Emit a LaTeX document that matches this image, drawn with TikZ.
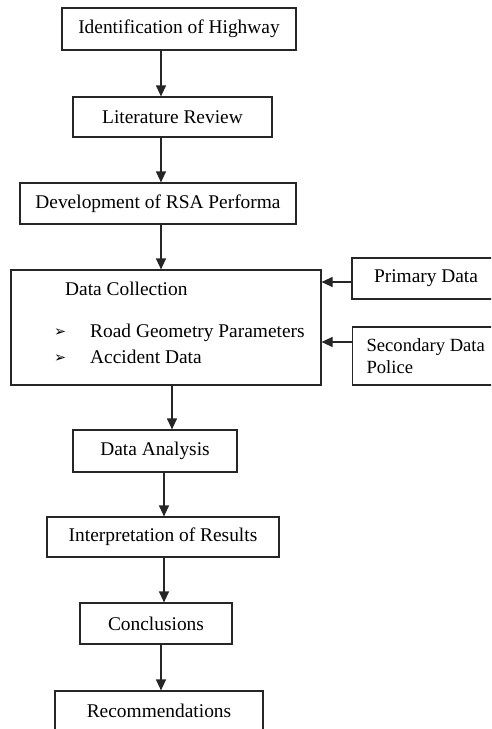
\documentclass[tikz,border=0pt]{standalone}
\usepackage{fontspec}
\setmainfont{Liberation Serif}
\newfontfamily\symfont{DejaVu Sans}
\usetikzlibrary{arrows.meta}
\begin{document}
\begin{tikzpicture}[x=1pt,y=-1pt,
  stepbox/.style={draw=black!85, line width=1.2pt, rectangle, inner sep=0pt,
    font=\fontsize{19.4}{22}\selectfont},
  txt/.style={inner sep=0pt, font=\fontsize{19.4}{22}\selectfont},
  arr/.style={draw=black!85, line width=1.2pt, -{Triangle[length=11pt,width=10pt]}}]
\useasboundingbox (0,0) rectangle (491,729);
\clip (0,0) rectangle (491,729);

% main chain of steps
\node[stepbox, minimum width=234pt, minimum height=42pt] (b1) at (179,29) {Identification of Highway};
\node[stepbox, minimum width=199pt, minimum height=40pt] (b2) at (172.5,117) {Literature Review};
\node[stepbox, minimum width=276pt, minimum height=41pt] (b3) at (158,203.5) {Development of RSA Performa};
\node[stepbox, minimum width=310pt, minimum height=115pt] (dc) at (166,327.5) {};
\node[stepbox, minimum width=164pt, minimum height=42pt] (da) at (155,451) {Data Analysis};
\node[stepbox, minimum width=232pt, minimum height=40pt] (ir) at (163,537) {Interpretation of Results};
\node[stepbox, minimum width=152pt, minimum height=41pt] (co) at (156,623.5) {Conclusions};
\node[stepbox, minimum width=208pt, minimum height=40pt] (re) at (159,711) {Recommendations};

% contents of the data collection box
\node[txt, anchor=base west] (dct) at (65,295) {Data Collection};
\node[txt, anchor=base west] (m1) at (54,336) {\symfont\fontsize{14.5}{15}\selectfont ➢};
\node[txt, anchor=base west] (r1) at (90,337) {Road Geometry Parameters};
\node[txt, anchor=base west] (m2) at (54,362) {\symfont\fontsize{14.5}{15}\selectfont ➢};
\node[txt, anchor=base west] (r2) at (90,363) {Accident Data};

% data sources on the right
\node[stepbox, minimum width=148pt, minimum height=41pt] (pd) at (426,278.5) {Primary Data};
\node[stepbox, anchor=west, minimum height=58pt, text width=150pt, align=flush left,
  inner xsep=14pt, font=\fontsize{18.6}{22}\selectfont] (sd) at (352,356) {Secondary Data\\Police};

% connectors
\draw[arr] (b1.south -| 161,0) -- (b2.north -| 161,0);
\draw[arr] (b2.south -| 161,0) -- (b3.north -| 161,0);
\draw[arr] (b3.south -| 161,0) -- (dc.north -| 161,0);
\draw[arr] (dc.south -| 172,0) -- (da.north -| 172,0);
\draw[arr] (da.south -| 164,0) -- (ir.north -| 164,0);
\draw[arr] (ir.south -| 164,0) -- (co.north -| 164,0);
\draw[arr] (co.south -| 161,0) -- (re.north -| 161,0);
\draw[arr] (pd.west |- 0,282) -- (dc.east |- 0,282);
\draw[arr] (sd.west |- 0,342) -- (dc.east |- 0,342);
\end{tikzpicture}
\end{document}
